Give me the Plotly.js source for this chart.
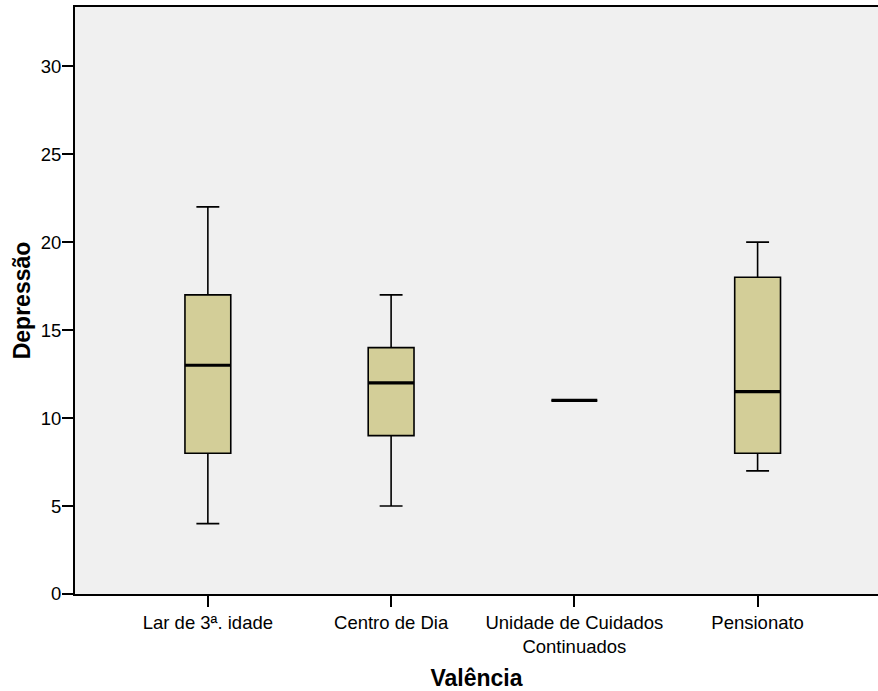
<!DOCTYPE html>
<html>
<head>
<meta charset="utf-8">
<script src="https://cdn.plot.ly/plotly-3.0.1.min.js"></script>
<style>html,body{margin:0;padding:0;background:#fff;}#chart{width:878px;height:691px;}</style>
</head>
<body>
<div id="chart"></div>
<script>
const categories = ["Lar de 3ª. idade", "Centro de Dia", "Unidade de Cuidados<br>Continuados", "Pensionato"];
const lowerWhisker = [4, 5, 11, 7];
const q1 = [8, 9, 11, 8];
const medians = [13, 12, 11, 11.5];
const q3 = [17, 14, 11, 18];
const upperWhisker = [22, 17, 11, 20];
const yTicks = [0, 5, 10, 15, 20, 25, 30];

const boxWidth = 0.25;
const FONT = "Arial, 'Liberation Sans', sans-serif";

const trace = {
  type: "box",
  x: categories,
  q1: q1,
  median: medians,
  q3: q3,
  lowerfence: lowerWhisker,
  upperfence: upperWhisker,
  width: boxWidth,
  whiskerwidth: 0.5,
  fillcolor: "#D3CE98",
  line: {color: "#000000", width: 1.6},
  boxpoints: false,
  hoverinfo: "skip",
  showlegend: false
};

const medianShapes = medians.map((m, i) => ({
  type: "line", xref: "x", yref: "y",
  x0: i - boxWidth / 2, x1: i + boxWidth / 2,
  y0: m, y1: m,
  line: {color: "#000000", width: 3.2}
}));

const layout = {
  width: 878, height: 691,
  margin: {l: 75, r: 0, t: 7, b: 97},
  paper_bgcolor: "#ffffff",
  plot_bgcolor: "#F0F0F0",
  font: {family: FONT, color: "#000000", size: 18.5},
  showlegend: false,
  shapes: medianShapes,
  xaxis: {
    type: "category",
    range: [-0.725, 3.657],
    showline: true, linecolor: "#000000", linewidth: 2, mirror: true,
    ticks: "outside", ticklen: 11, tickwidth: 2, tickcolor: "#000000",
    showgrid: false, zeroline: false,
    tickfont: {family: FONT, size: 18.5, color: "#000000"},
    title: {text: "<b>Valência</b>", font: {family: FONT, size: 23, color: "#000000"}, standoff: 16}
  },
  yaxis: {
    range: [0, 33.36],
    tickvals: yTicks,
    showline: true, linecolor: "#000000", linewidth: 2, mirror: false,
    ticks: "outside", ticklen: 11, tickwidth: 2, tickcolor: "#000000",
    ticklabelstandoff: -3,
    showgrid: false, zeroline: false,
    tickfont: {family: FONT, size: 18.5, color: "#000000"},
    title: {text: "<b>Depressão</b>", font: {family: FONT, size: 23, color: "#000000"}, standoff: 4}
  }
};

Plotly.newPlot("chart", [trace], layout, {displayModeBar: false, staticPlot: true});
</script>
</body>
</html>
